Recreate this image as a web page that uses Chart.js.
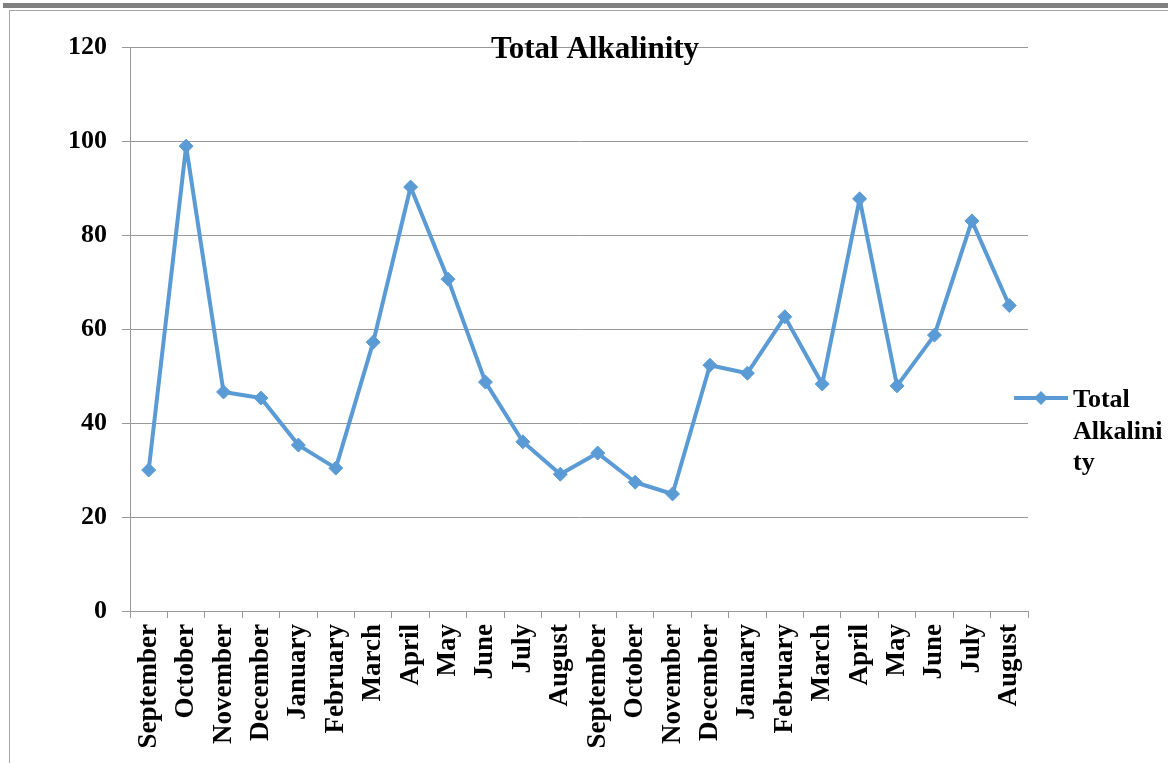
<!DOCTYPE html>
<html>
<head>
<meta charset="utf-8">
<title>Total Alkalinity</title>
<script src="https://cdn.jsdelivr.net/npm/chart.js@4.4.1/dist/chart.umd.min.js"></script>
<style>
  html, body { margin: 0; padding: 0; background: #fff; }
  body { width: 1168px; height: 763px; position: relative; overflow: hidden; }
  #wrap { position: absolute; left: 0; top: 0; width: 1168px; height: 763px; }
  /* page frame */
  .bar-top { position: absolute; left: 3px; right: 0; top: 3px; height: 5px; background: #808080; }
  .line-top { position: absolute; left: 9px; right: 0; top: 10px; height: 1px; background: #a6a6a6; }
  .line-left { position: absolute; left: 9px; top: 10px; bottom: 0; width: 1px; background: #a6a6a6; }
</style>
</head>
<body>
<div class="bar-top"></div>
<div class="line-top"></div>
<div class="line-left"></div>
<div id="wrap"><canvas id="chart" width="1168" height="763"></canvas></div>
<script>
// Data
const months = ['September', 'October', 'November', 'December', 'January', 'February', 'March', 'April',
    'May', 'June', 'July', 'August', 'September', 'October', 'November', 'December', 'January', 'February',
    'March', 'April', 'May', 'June', 'July', 'August'];
const alkalinity = [30.0, 98.9, 46.6, 45.3, 35.3, 30.4, 57.2, 90.2, 70.6, 48.7, 36.0, 29.1,
    33.6, 27.4, 24.9, 52.3, 50.6, 62.6, 48.3, 87.7, 47.9, 58.7, 83.0, 65.0];
const yTicks = [0, 20, 40, 60, 80, 100, 120];
const seriesName = 'Total Alkalinity';
const legendLines = ['Total', 'Alkalini', 'ty'];

const BLUE = '#5B9BD5';
const GRID = '#999999';
const FONT = '"Liberation Serif", "Times New Roman", serif';

// Title drawn over top of the plot, legend at right
const overlay = {
    id: 'overlay',
    afterDraw(chart) {
        const ctx = chart.ctx;
        const area = chart.chartArea;
        ctx.save();
        ctx.fillStyle = '#000';
        ctx.font = 'bold 31px ' + FONT;
        ctx.textAlign = 'center';
        ctx.textBaseline = 'alphabetic';
        ctx.fillText(seriesName, 595, area.top + 11);

        // legend
        const ly = 398;
        ctx.strokeStyle = BLUE;
        ctx.lineWidth = 4;
        ctx.beginPath();
        ctx.moveTo(1014, ly);
        ctx.lineTo(1068, ly);
        ctx.stroke();
        ctx.fillStyle = BLUE;
        ctx.beginPath();
        ctx.moveTo(1041 - 7, ly);
        ctx.lineTo(1041, ly - 7);
        ctx.lineTo(1041 + 7, ly);
        ctx.lineTo(1041, ly + 7);
        ctx.closePath();
        ctx.fill();

        ctx.fillStyle = '#000';
        ctx.font = 'bold 26px ' + FONT;
        ctx.textAlign = 'left';
        ctx.textBaseline = 'alphabetic';
        legendLines.forEach((t, i) => {
            ctx.fillText(t, 1073, 407 + i * 31.5);
        });
        ctx.restore();
    }
};

new Chart(document.getElementById('chart'), {
    type: 'line',
    data: {
        labels: months,
        datasets: [{
            label: seriesName,
            data: alkalinity,
            borderColor: BLUE,
            backgroundColor: BLUE,
            borderWidth: 4,
            borderJoinStyle: 'round',
            tension: 0,
            pointStyle: 'rectRot',
            pointRadius: 7,
            pointBorderWidth: 1,
            pointBackgroundColor: BLUE,
            pointBorderColor: BLUE
        }]
    },
    options: {
        responsive: false,
        animation: false,
        devicePixelRatio: 1,
        layout: { padding: { left: 0, top: 47, right: 140, bottom: 0 } },
        plugins: {
            legend: { display: false },
            title: { display: false },
            tooltip: { enabled: false }
        },
        scales: {
            x: {
                offset: true,
                afterFit: (s) => { s.height = 152; },
                grid: {
                    display: true,
                    offset: true,
                    drawOnChartArea: false,
                    drawTicks: true,
                    tickLength: 7,
                    color: GRID
                },
                border: { display: true, color: GRID, width: 1 },
                ticks: {
                    autoSkip: false,
                    minRotation: 90,
                    maxRotation: 90,
                    padding: 6,
                    color: '#000',
                    font: { family: FONT, size: 27, weight: 'bold' }
                }
            },
            y: {
                min: 0,
                max: 120,
                afterFit: (s) => { s.width = 130; },
                afterBuildTicks: (s) => { s.ticks = yTicks.map(v => ({ value: v })); },
                grid: {
                    color: GRID,
                    lineWidth: 1,
                    tickLength: 8
                },
                border: { display: true, color: GRID, width: 1 },
                ticks: {
                    stepSize: 20,
                    padding: 15,
                    color: '#000',
                    font: { family: FONT, size: 26, weight: 'bold' }
                }
            }
        }
    },
    plugins: [overlay]
});
</script>
</body>
</html>
